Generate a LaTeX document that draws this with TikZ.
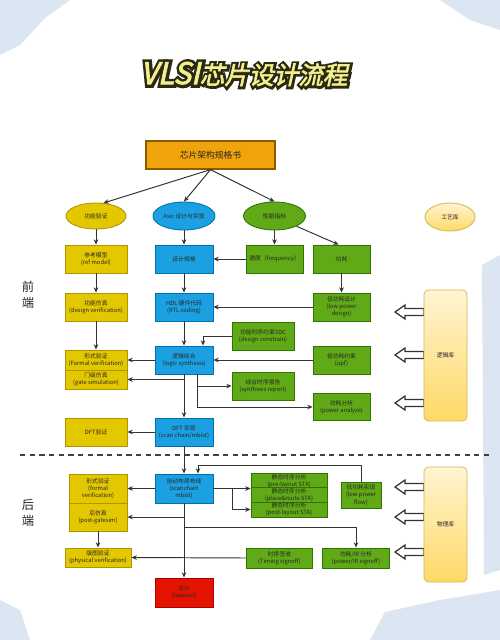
\documentclass[tikz,border=0pt]{standalone}
\usepackage{fontspec}
\newfontfamily\cjk{Noto Sans CJK SC}
\newfontfamily\titlefont{Noto Sans CJK SC}[FakeSlant=0.22,FakeBold=2.5]
\newfontfamily\titleout{Noto Sans CJK SC}[FakeSlant=0.22,FakeBold=22]
\usetikzlibrary{arrows.meta,shapes.geometric,calc}
\definecolor{yfill}{HTML}{E3C800}
\definecolor{ydraw}{HTML}{B09500}
\definecolor{bfill}{HTML}{1BA1E2}
\definecolor{bdraw}{HTML}{006EAF}
\definecolor{gfill}{HTML}{60A917}
\definecolor{gdraw}{HTML}{2D7600}
\definecolor{rfill}{HTML}{E51400}
\definecolor{rdraw}{HTML}{B20000}
\definecolor{ofill}{HTML}{F0A30A}
\definecolor{odraw}{HTML}{8A5A00}
\definecolor{libt}{HTML}{FFF4D2}
\definecolor{libb}{HTML}{FFD966}
\definecolor{libd}{HTML}{D6B656}
\definecolor{linec}{HTML}{333333}
\definecolor{txt}{HTML}{262626}
\definecolor{bgblue}{HTML}{DCE6F3}
\definecolor{ttlfill}{HTML}{F4EE8E}
\definecolor{ttlline}{HTML}{2A2A12}
\begin{document}
\begin{tikzpicture}[x=0.02cm,y=-0.02cm,
  base/.style={draw, line width=0.5pt, align=center, inner sep=0.3pt, text=txt,
    font=\cjk\fontsize{3.3}{4.1}\selectfont},
  sz/.style 2 args={minimum width=#1*0.02cm, minimum height=#2*0.02cm},
  ybox/.style={base, fill=yfill, draw=ydraw},
  bbox/.style={base, fill=bfill, draw=bdraw},
  gbox/.style={base, fill=gfill, draw=gdraw},
  rbox/.style={base, fill=rfill, draw=rdraw},
  obox/.style={base, fill=ofill, draw=odraw, line width=0.7pt, font=\cjk\fontsize{5}{6}\selectfont},
  oval/.style={ellipse, inner sep=0pt},
  libbox/.style={base, draw=libd, top color=libt, bottom color=libb, rounded corners=2.5pt, line width=0.4pt},
  arr/.style={-{Stealth[length=3pt,width=2.6pt]}, line width=0.55pt, draw=linec},
  ttl/.style={inner sep=0pt},
  side/.style={font=\cjk\fontsize{7}{9}\selectfont, align=center, text=black!85},
  harrow/.pic={\draw[line width=0.7pt, draw=black!80, fill=white]
     (0,0) -- (10,-7) -- (10,-3.5) -- (29,-3.5) -- (29,3.5) -- (10,3.5) -- (10,7) -- cycle;}
]
\useasboundingbox (0,0) rectangle (500,640);
\fill[white] (0,0) rectangle (500,640);
% background patches
\fill[bgblue] (0,0) -- (70,0) -- (45,18) -- (20,45) -- (0,55) -- cycle;
\fill[bgblue] (440,0) -- (500,0) -- (500,30) -- (470,20) -- cycle;
\fill[bgblue] (482,265) -- (500,255) -- (500,570) -- (484,575) -- cycle;
\fill[bgblue] (370,640) -- (385,612) -- (440,600) -- (500,590) -- (500,640) -- cycle;
\fill[bgblue] (0,600) -- (20,610) -- (30,640) -- (0,640) -- cycle;

% title: dark outline layer under the yellow text
\node[ttl, text=ttlline, font=\titleout\fontsize{14}{16}\selectfont] (tout) at (244.5,74.5) {{\fontsize{17}{16}\selectfont VLSI}芯片设计流程};
\node[ttl, text=ttlfill, font=\titlefont\fontsize{14}{16}\selectfont] (title) at (244,74) {{\fontsize{17}{16}\selectfont VLSI}芯片设计流程};

% side labels
\node[side] (fe) at (28,295) {前\\端};
\node[side] (be) at (28,513) {后\\端};

% dashed separator
\coordinate (d1) at (20,455);
\coordinate (d2) at (490,455);
\draw[dashed, dash pattern=on 3pt off 2.5pt, line width=0.7pt, draw=black!75] (d1) -- (d2);

% top
\node[obox, sz={129}{28}] (spec) at (210.5,155) {芯片架构规格书};
\node[oval, ybox, sz={60}{26}] (e1) at (96,216) {功能验证};
\node[oval, bbox, sz={62}{28}] (e2) at (184,216) {Asic 设计与实现};
\node[oval, gbox, sz={62}{28}] (e3) at (274.5,216) {性能指标};
\node[oval, base, draw=libd, top color=libt, bottom color=libb, sz={50}{28}] (e4) at (450,217) {工艺库};

% front-end boxes
\node[ybox, sz={62}{28}] (refm) at (96,259) {参考模型\\(ref model)};
\node[bbox, sz={58}{28}] (dspec) at (184,259) {设计规格};
\node[gbox, sz={57}{28}] (freq) at (274.5,259) {速度（frequency）};
\node[gbox, sz={57}{28}] (pwr) at (341.5,259) {功耗};
\node[ybox, sz={62}{28}] (dver) at (96,307) {功能仿真\\(design verification)};
\node[bbox, sz={58}{28}] (hdl) at (184,307) {HDL 硬件代码\\(RTL coding)};
\node[gbox, sz={57}{28}] (lpd) at (341.5,307) {低功耗设计\\(low power\\design)};
\node[gbox, sz={62}{28}] (sdc) at (263,336) {功能时序约束SDC\\(design constrain)};
\node[ybox, sz={62}{20}] (fv) at (96,360) {形式验证\\(Formal verification)};
\node[ybox, sz={62}{19}] (gs) at (96,379.5) {门级仿真\\(gate simulation)};
\node[bbox, sz={58}{28}] (ls) at (184,360) {逻辑综合\\(logic synthesis)};
\node[gbox, sz={57}{28}] (upf) at (341.5,360) {低功耗约束\\(upf)};
\node[gbox, sz={62}{28}] (srep) at (263,386) {综合时序报告\\(synthesis report)};
\node[gbox, sz={57}{27}] (pa) at (341.5,407) {功耗分析\\(power analyze)};
\node[ybox, sz={62}{28}] (dftv) at (96,432) {DFT验证};
\node[bbox, sz={58}{28}] (dft) at (184,432) {DFT 实现\\(scan chain/mbist)};

% back-end boxes
\node[bbox, sz={58}{29}] (pr) at (184,488.5) {自动布局布线\\(scanchain\\mbist)};
\node[ybox, sz={58}{29}] (fv2) at (98,488.5) {形式验证\\(formal\\verification)};
\node[ybox, sz={58}{28}] (ps) at (98,517) {后仿真\\(post-gatesim)};
\node[ybox, sz={66}{19}] (phv) at (98,557.5) {版图验证\\(physical verification)};
\node[gbox, sz={76}{14}] (sta1) at (289,481) {静态时序分析\\(pre-layout STA)};
\node[gbox, sz={76}{14}] (sta2) at (289,495) {静态时序分析\\(place\&route STA)};
\node[gbox, sz={76}{15}] (sta3) at (289,509.5) {静态时序分析\\(post-layout STA)};
\node[gbox, sz={40}{26}] (lpf) at (361,495) {低功耗实现\\(low power\\flow)};
\node[gbox, sz={66}{20}] (tso) at (279.5,558) {时序签收\\(Timing signoff)};
\node[gbox, sz={67}{20}] (ir) at (356,558) {功耗/IR 分析\\(power/IR signoff)};
\node[rbox, sz={58}{29}] (tape) at (184,592.5) {流片\\(tapeout)};

% library hollow arrows
\pic at (395,312) {harrow};
\pic at (395,355) {harrow};
\pic at (395,403) {harrow};
\pic at (395,487) {harrow};
\pic at (395,517) {harrow};
\pic at (395,552) {harrow};
\node[libbox, sz={43}{131}] (lib1) at (445.5,355.5) {逻辑库};
\node[libbox, sz={43}{115}] (lib2) at (445.5,524.5) {物理库};

% connectors: top
\draw[arr] (spec.south) -- (e1.60);
\draw[arr] (spec.south) -- (e2.north);
\draw[arr] (spec.south) -- (e3.north);
\draw[arr] (e1) -- (refm);
\draw[arr] (refm) -- (dver);
\draw[arr] (dver) -- (fv);
\draw[arr] (e2) -- (dspec);
\draw[arr] (dspec) -- (hdl);
\draw[arr] (hdl) -- (ls);
\draw[arr] (ls) -- (dft);
\draw[arr] (dft) -- (pr);
\draw[arr] (pr) -- (tape);
\draw[arr] (e3) -- (freq);
\draw[arr] (e3.-25) -- ([xshift=-3*0.02cm]pwr.north);
\draw[arr] (pwr) -- (lpd);
\draw[arr] (freq) -- (dspec);
\draw[arr] (lpd.west) -- (lpd.west -| hdl.east);
\draw[arr] (sdc.west) -| ([xshift=19*0.02cm]ls.north);
\draw[arr] (upf) -- (ls);
\draw[arr] (ls.west) -- (ls.west -| fv.east);
\draw[arr] (gs.east -| ls.south) -- (gs.east);
\draw[arr] ([xshift=13*0.02cm]ls.south) |- (srep.west);
\draw[arr] ([xshift=13*0.02cm]ls.south) |- (pa.west);
\draw[arr] (dft) -- (dftv);

% connectors: back-end
\coordinate (j1) at (198,465);
\draw[arr] (lpf.north) |- (j1) -- (j1 |- pr.north);
\draw[arr] (pr.west) -- (pr.west -| fv2.east);
\draw[arr] (ps.east -| pr.south) -- (ps.east);
\draw[arr] (pr.east) -- (pr.east -| sta2.west);
\coordinate (j3) at (232,488.5);
\draw[arr] (j3) |- (sta3.west);
\coordinate (j2) at (184,527);
\draw[arr] (j2) -| (ir.north);
\draw[arr] (ps.south) -- (ps.south |- phv.north);
\draw[arr] (tso.west) -- (phv.east);
\end{tikzpicture}
\end{document}
